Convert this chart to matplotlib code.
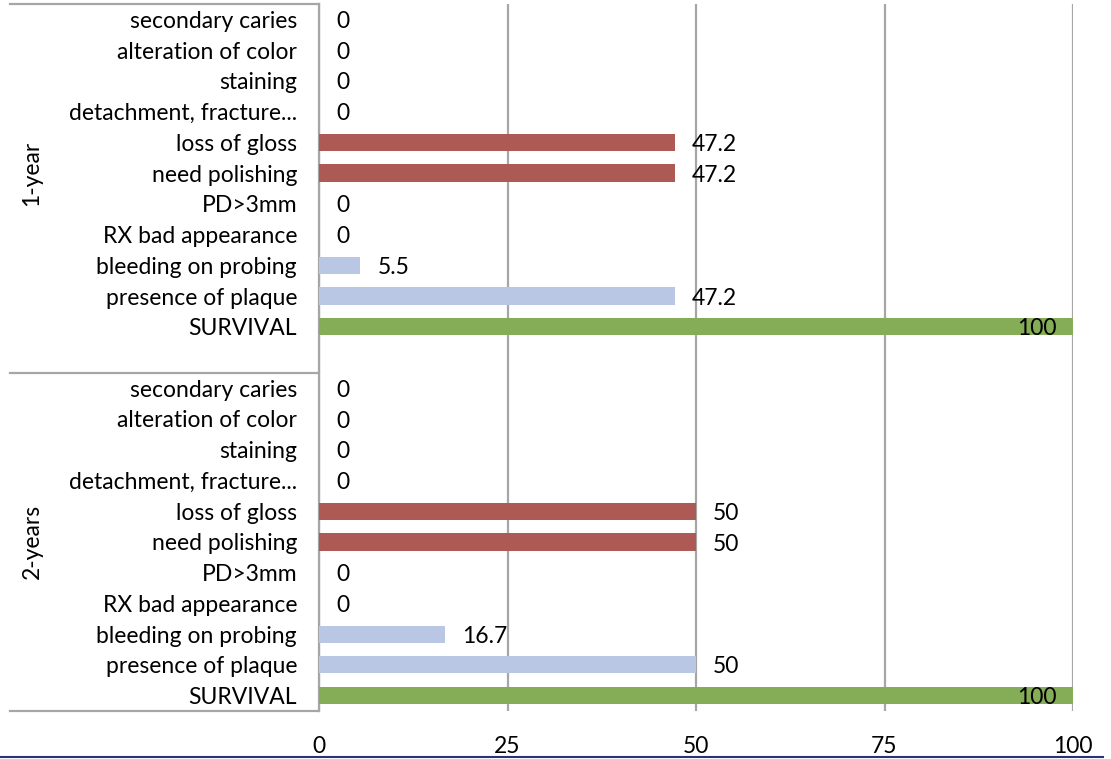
import matplotlib
matplotlib.use("Agg")
import matplotlib.pyplot as plt
from matplotlib.lines import Line2D

plt.rcParams['font.family'] = ['Lato', 'DejaVu Sans']
FS = 16.5

# categories, top to bottom inside each group
criteria = ["secondary caries", "alteration of color", "staining",
            "detachment, fracture...", "loss of gloss", "need polishing",
            "PD>3mm", "RX bad appearance", "bleeding on probing",
            "presence of plaque", "SURVIVAL"]
groups = ["1-year", "2-years"]

# percentages per group, same order as criteria
year1 = [0, 0, 0, 0, 47.2, 47.2, 0, 0, 5.5, 47.2, 100]
year2 = [0, 0, 0, 0, 50, 50, 0, 0, 16.7, 50, 100]

red = "#AD5A55"
blue = "#B9C6E4"
green = "#85AD58"
bar_colors = [red, red, red, red, red, red, blue, blue, blue, blue, green]

fig = plt.figure(figsize=(11.11, 7.59), dpi=100)
ax = fig.add_axes([319 / 1111, 1 - 711 / 759, 754 / 1111, 707 / 759])

n = len(criteria)
# group 1 rows 0..10, one empty slot, group 2 rows 12..22
pos1 = list(range(n))
pos2 = [n + 1 + i for i in range(n)]

ax.barh(pos1, year1, height=0.56, color=bar_colors, zorder=3)
ax.barh(pos2, year2, height=0.56, color=bar_colors, zorder=3)

for pos, vals in ((pos1, year1), (pos2, year2)):
    for p, v in zip(pos, vals):
        txt = "%g" % v
        if v >= 100:
            ax.annotate(txt, (v, p), xytext=(-11.5, -1.5), textcoords="offset points",
                        ha="right", va="center", fontsize=FS, zorder=4)
        else:
            ax.annotate(txt, (v, p), xytext=(12.2, -1.5), textcoords="offset points",
                        ha="left", va="center", fontsize=FS, zorder=4)

ax.set_ylim(2 * n + 0.5, -0.5)
ax.set_xlim(0, 100)
ax.set_yticks(pos1 + pos2)
ax.set_yticklabels(criteria + criteria, fontsize=FS)
ax.set_xticks([0, 25, 50, 75, 100])
ax.tick_params(axis="y", length=0, pad=15.8)
ax.tick_params(axis="x", length=0, pad=18, labelsize=FS)

ax.grid(axis="x", color="#A6A6A6", linewidth=1.6, zorder=0)
for s in ("top", "right", "bottom"):
    ax.spines[s].set_visible(False)
ax.spines["left"].set_color("#A6A6A6")
ax.spines["left"].set_linewidth(1.6)

# group separators and group names on the category axis
tr = ax.get_yaxis_transform()
x_left = (10 - 319) / 754
for y in (-0.5, n + 0.5, 2 * n + 0.5):
    ax.plot([x_left, 0], [y, y], transform=tr, color="#A6A6A6",
            linewidth=1.6, clip_on=False)
x_grp = (32 - 319) / 754
ax.text(x_grp, n / 2 - 0.5, groups[0], transform=tr, rotation=90,
        ha="center", va="center", fontsize=FS)
ax.text(x_grp, (n + 0.5 + 2 * n + 0.5) / 2, groups[1], transform=tr, rotation=90,
        ha="center", va="center", fontsize=FS)

fig.add_artist(Line2D([0, 1103 / 1111], [1 - 757 / 759] * 2, color="#2E2F7A",
                      linewidth=1.5, transform=fig.transFigure))

fig.savefig("out.png", dpi=100)
